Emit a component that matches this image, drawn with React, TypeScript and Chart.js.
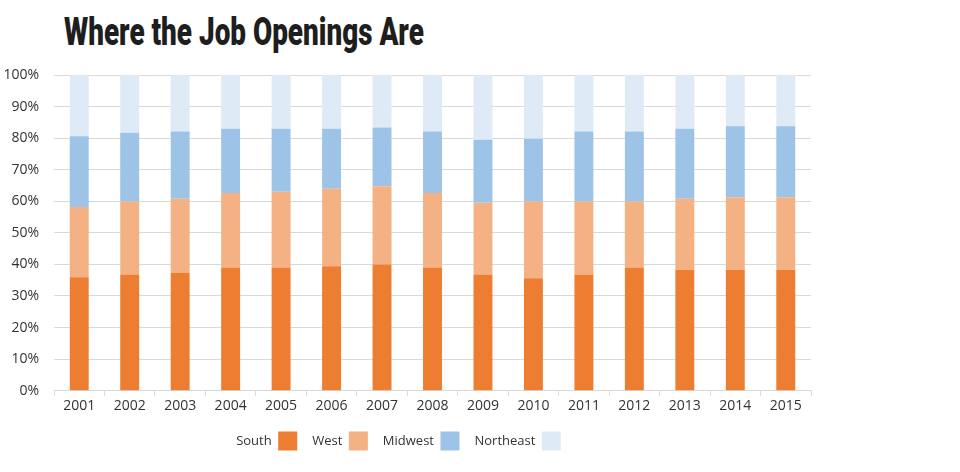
import React, { useEffect, useRef } from 'react';
import { Chart, registerables } from 'chart.js';

Chart.register(...registerables);

const titleText = 'Where the Job Openings Are';
const years = ['2001', '2002', '2003', '2004', '2005', '2006', '2007', '2008', '2009', '2010', '2011', '2012', '2013', '2014', '2015'];
const south = [35.9, 36.8, 37.3, 39.0, 39.0, 39.4, 40.0, 39.0, 36.8, 35.6, 36.8, 39.0, 38.3, 38.3, 38.3];
const west = [22.3, 23.1, 23.5, 23.6, 24.0, 24.6, 24.8, 23.6, 22.7, 24.3, 23.1, 20.9, 22.5, 23.0, 23.0];
const midwest = [22.4, 21.8, 21.3, 20.4, 20.0, 19.0, 18.6, 19.5, 20.0, 19.9, 22.2, 22.2, 22.2, 22.5, 22.5];
const northeast = [19.4, 18.3, 17.9, 17.0, 17.0, 17.0, 16.6, 17.9, 20.5, 20.2, 17.9, 17.9, 17.0, 16.2, 16.2];
const seriesNames = ['South', 'West', 'Midwest', 'Northeast'];
const seriesColors = ['#ED7D31', '#F4B183', '#9DC3E6', '#DEEBF7'];

const TICK_FONT = { family: "'Open Sans', 'Noto Sans', sans-serif", size: 14 };
const LEGEND_FONT = { family: "'Open Sans', 'Noto Sans', sans-serif", size: 13 };
const TEXT_COLOR = '#333333';
const GRID_COLOR = '#d9d9d9';

const legendShift = {
  id: 'legendShift',
  afterLayout(chart: any) {
    const l = chart.legend;
    if (l) {
      l.left -= 7;
      l.right -= 7;
    }
  },
};

export default function App() {
  const canvasRef = useRef<HTMLCanvasElement>(null);
  const titleRef = useRef<HTMLSpanElement>(null);

  useEffect(() => {
    if (titleRef.current) {
      const w = titleRef.current.offsetWidth;
      titleRef.current.style.transform = `scaleX(${360 / w})`;
    }
    const values = [south, west, midwest, northeast];
    const chart = new Chart(canvasRef.current!, {
      type: 'bar',
      data: {
        labels: years,
        datasets: seriesNames.map((name, i) => ({
          label: name,
          data: values[i],
          backgroundColor: seriesColors[i],
          borderWidth: 0,
          categoryPercentage: 0.75,
          barPercentage: 0.5,
        })),
      },
      options: {
        animation: false,
        responsive: true,
        maintainAspectRatio: false,
        layout: { padding: { top: 75, left: 0, right: 149, bottom: 11.5 } },
        plugins: {
          title: { display: false },
          tooltip: { enabled: false },
          legend: {
            position: 'bottom',
            rtl: true,
            reverse: true,
            labels: {
              boxWidth: 19,
              boxHeight: 19,
              padding: 15,
              color: TEXT_COLOR,
              font: LEGEND_FONT,
            },
          },
        },
        scales: {
          x: {
            stacked: true,
            grid: {
              offset: true,
              drawOnChartArea: false,
              drawTicks: true,
              tickLength: 5,
              color: GRID_COLOR,
            },
            border: { color: GRID_COLOR },
            ticks: { color: TEXT_COLOR, font: TICK_FONT, padding: 2, maxRotation: 0 },
          },
          y: {
            stacked: true,
            min: 0,
            max: 100,
            afterFit: (scale: any) => {
              scale.width = 54;
            },
            grid: { color: GRID_COLOR, drawTicks: false },
            border: { display: false },
            ticks: {
              stepSize: 10,
              color: TEXT_COLOR,
              font: TICK_FONT,
              padding: 15,
              callback: (v: any) => `${v}%`,
            },
          },
        },
      },
      plugins: [legendShift],
    });
    return () => chart.destroy();
  }, []);

  return (
    <div style={{ position: 'absolute', left: 0, top: 0, width: 960, height: 472, background: '#fff' }}>
      <div style={{ position: 'absolute', left: 64, top: 13, whiteSpace: 'nowrap', lineHeight: 1 }}>
        <span
          ref={titleRef}
          style={{
            display: 'inline-block',
            transformOrigin: 'left top',
            fontFamily: "Roboto, 'Noto Sans', sans-serif",
            fontWeight: 900,
            fontSize: 38,
            color: '#1e1e1e',
          }}
        >
          {titleText}
        </span>
      </div>
      <div style={{ position: 'absolute', left: 0, top: 0, width: 960, height: 472 }}>
        <canvas ref={canvasRef} />
      </div>
    </div>
  );
}
